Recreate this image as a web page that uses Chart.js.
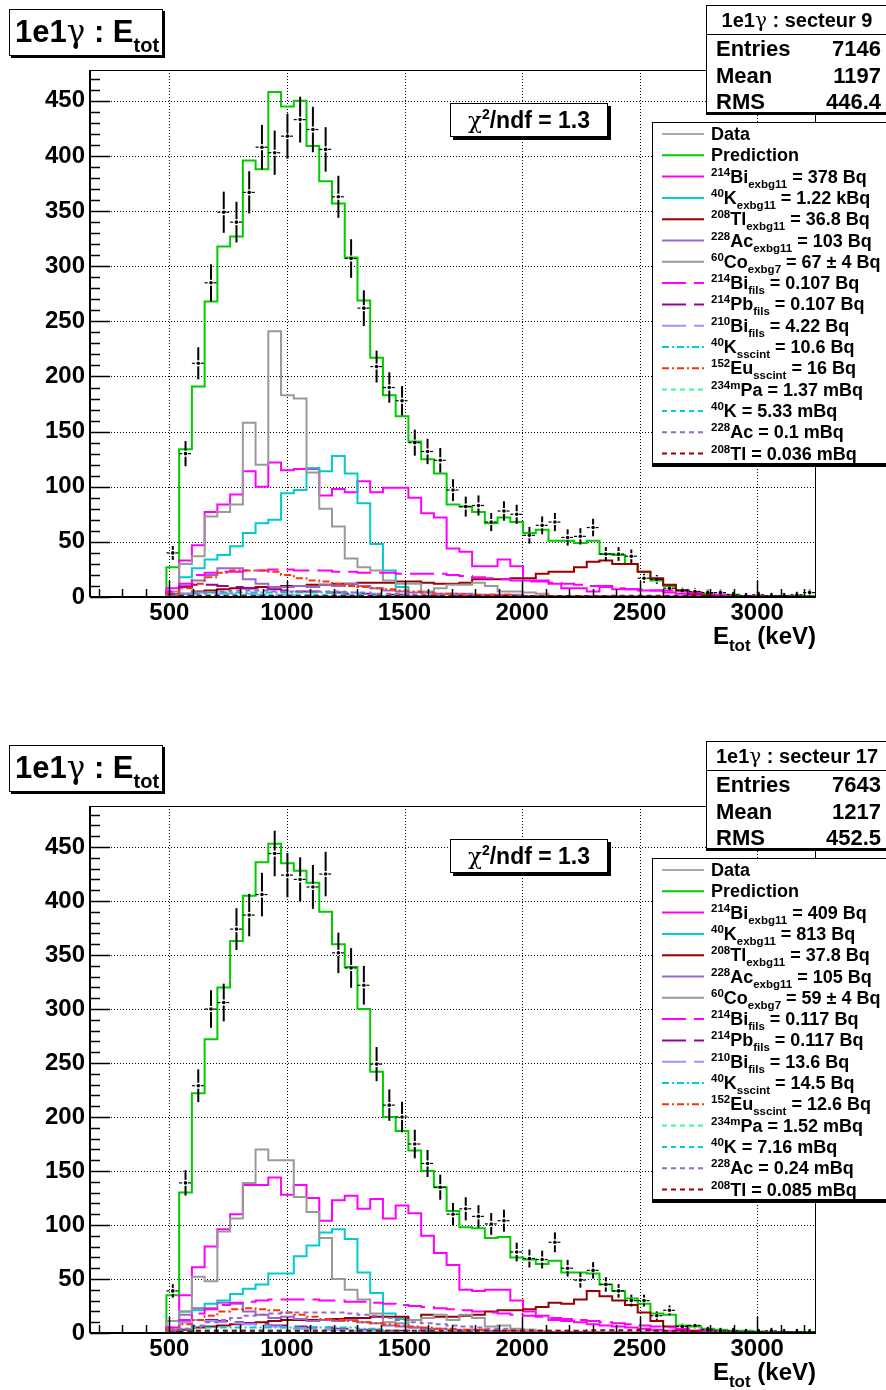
<!DOCTYPE html>
<html>
<head>
<meta charset="utf-8">
<script src="https://cdn.jsdelivr.net/npm/chart.js@4.4.0/dist/chart.umd.min.js"></script>
<style>
  body { margin: 0; width: 886px; height: 1390px; overflow: hidden; background: #fff; position: relative;
         font-family: "Liberation Sans", Arial, Helvetica, sans-serif; font-weight: bold; color: #000; }
  canvas { position: absolute; left: 0; }
  .box { position: absolute; background: #fff; border: 1px solid #000; box-sizing: border-box; }
  .abs { position: absolute; white-space: nowrap; }
  .sup { position: relative; top: -7px; font-size: 11.5px; }
  .sub { position: relative; top: 5px; font-size: 11.5px; }
  .greek { font-weight: normal; font-family: "DejaVu Serif", "Liberation Serif", serif; }
</style>
</head>
<body>
<script>
// 1e1g E_tot spectra, secteur 9 and secteur 17
// histograms: 57 bins of 3250/60 keV, first edge at 162.5 keV

const BIN_W = 3250 / 60;
const X_MIN = 162.5;
const X_MAX = 3250;
const X_TICKS = [500, 1000, 1500, 2000, 2500, 3000];
const Y_TICKS = [0, 50, 100, 150, 200, 250, 300, 350, 400, 450];

// ---- secteur 9 ----
const s9Data = [null, null, null, null, null, null,
  40, 130, 212, 285, 349, 340, 367, 408, 403, 418,
  433, 424, 406, 363, 307, 262, 209, 190, 178, 140,
  132, 124, 97, 82, 83, 68, 78, 75, 56, 65,
  68, 54, 55, 63, 39, 39, 37, 17, 16, 8,
  6, 5, 4, 4, 2, 1, 2, 1, 1, 2, 4];
const s9Pred = [0, 0, 0, 0, 0, 0,
  27, 134, 191, 268, 318, 327, 396, 388, 458, 445,
  450, 409, 377, 357, 308, 269, 217, 183, 164, 141,
  125, 112, 84, 82, 77, 67, 72, 68, 58, 61,
  51, 51, 49, 51, 39, 38, 30, 23, 15, 10,
  6, 4, 3, 2, 2, 1, 1, 1, 1, 1, 1];
const s9Bi214 = [0, 0, 0, 0, 0, 0,
  8, 33, 47, 77, 84, 93, 114, 100, 122, 115,
  116, 116, 92, 98, 95, 105, 95, 99, 99, 90,
  76, 72, 44, 41, 28, 28, 34, 28, 15, 15,
  12, 8, 8, 5, 10, 7, 7, 6, 6, 4,
  3, 2, 1, 1, 0.5, 0.5, 0.3, 0.3, 0.2, 0.2, 0.1];
const s9K40 = [0, 0, 0, 0, 0, 0,
  3, 18, 26, 34, 38, 46, 58, 67, 70, 94,
  97, 117, 114, 128, 112, 85, 48, 24, 9, 1,
  0, 0, 0, 0, 0, 0, 0, 0, 0, 0,
  0, 0, 0, 0, 0, 0, 0, 0, 0, 0,
  0, 0, 0, 0, 0, 0, 0, 0, 0, 0, 0];
const s9Tl208 = [0, 0, 0, 0, 0, 0,
  1, 3, 5, 6, 7, 8, 8, 9, 9, 10,
  10, 11, 11, 12, 12, 13, 13, 13, 14, 14,
  13, 12, 12, 13, 16, 16, 16, 17, 17, 21,
  23, 23, 27, 32, 33, 30, 30, 23, 17, 11,
  6, 3, 1.5, 1, 0.5, 0.5, 0.3, 0.3, 0.2, 0.2, 0.1];
const s9Ac228 = [0, 0, 0, 0, 0, 0,
  2, 10, 15, 20, 26, 26, 16, 12, 9, 9,
  10, 9, 11, 10, 12, 10, 8, 6, 5, 4,
  4, 3, 3, 3, 2, 2, 2, 2, 1, 1,
  1, 1, 1, 1, 1, 0.5, 0.5, 0.5, 0.3, 0.3,
  0.2, 0.2, 0.1, 0.1, 0, 0, 0, 0, 0, 0, 0];
const s9Co60 = [0, 0, 0, 0, 0, 0,
  5, 30, 37, 73, 77, 84, 158, 120, 241, 183,
  180, 113, 80, 64, 35, 27, 24, 15, 12, 12,
  5, 8, 11, 11, 13, 10, 5, 5, 4, 3,
  1, 0, 0, 0, 0, 0, 0, 0, 0, 0,
  0, 0, 0, 0, 0, 0, 0, 0, 0, 0, 0];
const s9Bi214f = [0, 0, 0, 0, 0, 0,
  5, 12, 20, 22, 23, 23, 24, 24, 25, 25,
  24, 24, 24, 23, 23, 22, 22, 22, 21, 21,
  21, 21, 20, 19, 18, 17, 16, 15, 14, 14,
  13, 12, 11, 10, 9, 8, 7, 7, 6, 6,
  5, 4, 3, 2, 1, 0.5, 0.5, 0.3, 0.3, 0.2, 0.2];
const s9Pb214f = [0, 0, 0, 0, 0, 0,
  3, 9, 11, 11, 10, 9, 8, 8, 7, 6,
  5, 5, 4, 4, 3, 3, 2, 2, 2, 1,
  1, 1, 1, 0.5, 0.5, 0.5, 0.5, 0.5, 0.5, 0.5,
  0.3, 0.3, 0.3, 0.3, 0.3, 0.3, 0.3, 0.2, 0.2, 0.2,
  0.2, 0.1, 0.1, 0, 0, 0, 0, 0, 0, 0, 0];
const s9Bi210f = [0, 0, 0, 0, 0, 0,
  1, 3, 4, 4, 3, 3, 3, 2, 2, 2,
  1, 1, 1, 1, 1, 0.5, 0.5, 0.5, 0.3, 0.3,
  0.2, 0.2, 0.1, 0.1, 0, 0, 0, 0, 0, 0,
  0, 0, 0, 0, 0, 0, 0, 0, 0, 0,
  0, 0, 0, 0, 0, 0, 0, 0, 0, 0, 0];
const s9K40s = [0, 0, 0, 0, 0, 0,
  1, 3, 4, 4, 4, 4, 4, 4, 4, 4,
  4, 4, 4, 4, 4, 3, 3, 1, 0.5, 0.2,
  0.2, 0.2, 0.1, 0.1, 0, 0, 0, 0, 0, 0,
  0, 0, 0, 0, 0, 0, 0, 0, 0, 0,
  0, 0, 0, 0, 0, 0, 0, 0, 0, 0, 0];
const s9Eu152 = [0, 0, 0, 0, 0, 0,
  3, 8, 12, 18, 22, 24, 24, 24, 23, 20,
  17, 15, 14, 12, 10, 9, 8, 7, 6, 5,
  4, 3, 3, 2, 2, 2, 2, 1, 1, 1,
  1, 1, 1, 0.5, 0.5, 0.5, 0.5, 0.3, 0.3, 0.3,
  0.2, 0.2, 0.2, 0.1, 0.1, 0, 0, 0, 0, 0, 0];
const s9Pa234 = [0, 0, 0, 0, 0, 0,
  0.5, 1, 1, 1.5, 1.5, 1.5, 1.5, 1.5, 1.5, 1.5,
  1.5, 1.5, 1.5, 1.5, 1.5, 1.5, 1.5, 1.5, 1.5, 1.5,
  1.5, 1, 1, 1, 1, 1, 1, 1, 1, 1,
  1, 1, 1, 1, 1, 0.5, 0.5, 0.5, 0.5, 0.5,
  0.3, 0.3, 0.3, 0.2, 0.2, 0.1, 0.1, 0, 0, 0, 0];
const s9K40p = [0, 0, 0, 0, 0, 0,
  0.5, 1.5, 1.5, 1.5, 1.5, 1.5, 1.5, 1.5, 1.5, 1.5,
  1.5, 1.5, 1.5, 1.5, 1.5, 1.5, 1.2, 0.5, 0.2, 0,
  0, 0, 0, 0, 0, 0, 0, 0, 0, 0,
  0, 0, 0, 0, 0, 0, 0, 0, 0, 0,
  0, 0, 0, 0, 0, 0, 0, 0, 0, 0, 0];
const s9Ac228p = [0, 0, 0, 0, 0, 0,
  0.5, 2, 3, 4, 5, 6, 6, 6, 5, 5,
  5, 5, 5, 5, 4, 4, 3, 3, 3, 2,
  2, 2, 2, 1, 1, 1, 1, 1, 1, 1,
  0.5, 0.5, 0.5, 0.5, 0.5, 0.3, 0.3, 0.3, 0.3, 0.2,
  0.2, 0.2, 0.1, 0.1, 0, 0, 0, 0, 0, 0, 0];
const s9Tl208p = [0, 0, 0, 0, 0, 0,
  0.3, 0.8, 1, 1, 1, 1, 1, 1, 1, 1,
  1, 1, 1, 1, 1, 1, 1, 1, 1, 1,
  1, 1, 1, 1, 1, 1, 1, 1, 1, 1,
  1, 1, 1, 1, 1, 1.2, 1.2, 1.2, 1.2, 1.2,
  1, 1, 0.8, 0.5, 0.3, 0.2, 0.1, 0.1, 0, 0, 0];

const s9Legend = [
  ['', 'Data', '', ''],
  ['', 'Prediction', '', ''],
  ['214', 'Bi', 'exbg11', '= 378 Bq'],
  ['40', 'K', 'exbg11', '= 1.22 kBq'],
  ['208', 'Tl', 'exbg11', '= 36.8 Bq'],
  ['228', 'Ac', 'exbg11', '= 103 Bq'],
  ['60', 'Co', 'exbg7', '= 67 ± 4 Bq'],
  ['214', 'Bi', 'fils', '= 0.107 Bq'],
  ['214', 'Pb', 'fils', '= 0.107 Bq'],
  ['210', 'Bi', 'fils', '= 4.22 Bq'],
  ['40', 'K', 'sscint', '= 10.6 Bq'],
  ['152', 'Eu', 'sscint', '= 16 Bq'],
  ['234m', 'Pa', '', '= 1.37 mBq'],
  ['40', 'K', '', '= 5.33 mBq'],
  ['228', 'Ac', '', '= 0.1 mBq'],
  ['208', 'Tl', '', '= 0.036 mBq']
];
const s9Stats = ['secteur 9', '7146', '1197', '446.4'];

// ---- secteur 17 ----
const s17Data = [null, null, null, null, null, null,
  39, 139, 229, 300, 306, 374, 387, 406, 444, 424,
  420, 413, 425, 352, 338, 322, 249, 211, 200, 175,
  157, 135, 110, 115, 108, 101, 104, 75, 69, 68,
  84, 60, 49, 58, 45, 39, 30, 30, 16, 21,
  6, 7, 3, 2, 2, 1, 1, 2, 1, 1, 1];
const s17Pred = [0, 0, 0, 0, 0, 0,
  35, 130, 222, 272, 320, 363, 405, 436, 453, 435,
  428, 417, 390, 360, 339, 300, 242, 200, 187, 169,
  150, 135, 113, 98, 97, 88, 89, 70, 68, 64,
  67, 56, 56, 55, 45, 39, 32, 27, 18, 17,
  7, 6, 4, 3, 2, 2, 1.5, 1, 1, 1, 1];
const s17Bi214 = [0, 0, 0, 0, 0, 0,
  5, 35, 61, 80, 96, 110, 137, 137, 144, 128,
  137, 125, 104, 123, 127, 115, 124, 106, 118, 111,
  90, 74, 63, 40, 39, 40, 40, 30, 20, 16,
  12, 11, 10, 8, 7, 6, 5, 4, 3, 2,
  2, 1, 1, 0.5, 0.5, 0.3, 0.3, 0.2, 0.2, 0.1, 0.1];
const s17K40 = [0, 0, 0, 0, 0, 0,
  3, 20, 21, 27, 30, 36, 41, 45, 55, 55,
  71, 81, 93, 96, 87, 56, 37, 18, 13, 5,
  2, 1, 0, 0, 0, 0, 0, 0, 0, 0,
  0, 0, 0, 0, 0, 0, 0, 0, 0, 0,
  0, 0, 0, 0, 0, 0, 0, 0, 0, 0, 0];
const s17Tl208 = [0, 0, 0, 0, 0, 0,
  1, 3, 5, 6, 7, 8, 9, 10, 11, 12,
  12, 12, 12, 13, 14, 14, 15, 15, 15, 12,
  17, 15, 15, 16, 17, 20, 21, 21, 22, 24,
  28, 27, 31, 39, 34, 30, 26, 19, 11, 6,
  3, 2, 1, 0.5, 0.5, 0.3, 0.3, 0.2, 0.2, 0.1, 0.1];
const s17Ac228 = [0, 0, 0, 0, 0, 0,
  3, 17, 23, 23, 28, 27, 20, 17, 14, 15,
  13, 11, 12, 11, 12, 10, 9, 7, 6, 5,
  4, 4, 3, 3, 3, 2, 2, 2, 1, 1,
  1, 1, 1, 1, 0.5, 0.5, 0.5, 0.3, 0.3, 0.2,
  0.2, 0.1, 0.1, 0, 0, 0, 0, 0, 0, 0, 0];
const s17Co60 = [0, 0, 0, 0, 0, 0,
  11, 20, 52, 48, 94, 106, 139, 170, 160, 160,
  126, 112, 88, 50, 40, 31, 18, 10, 9, 12,
  14, 17, 12, 17, 14, 6, 7, 4, 3, 2,
  1, 0, 0, 0, 0, 0, 0, 0, 0, 0,
  0, 0, 0, 0, 0, 0, 0, 0, 0, 0, 0];
const s17Bi214f = [0, 0, 0, 0, 0, 0,
  5, 12, 18, 22, 26, 28, 29, 30, 31, 31,
  31, 31, 30, 30, 29, 29, 28, 27, 26, 25,
  24, 23, 22, 21, 20, 19, 18, 17, 16, 15,
  14, 13, 12, 11, 10, 9, 8, 7, 6, 5,
  4, 3, 2, 1, 0.5, 0.5, 0.3, 0.3, 0.2, 0.2, 0.1];
const s17Pb214f = [0, 0, 0, 0, 0, 0,
  3, 10, 12, 12, 11, 10, 9, 8, 7, 7,
  6, 5, 5, 4, 4, 3, 3, 2, 2, 2,
  1, 1, 1, 1, 0.5, 0.5, 0.5, 0.5, 0.5, 0.5,
  0.3, 0.3, 0.3, 0.3, 0.3, 0.3, 0.2, 0.2, 0.2, 0.2,
  0.1, 0.1, 0, 0, 0, 0, 0, 0, 0, 0, 0];
const s17Bi210f = [0, 0, 0, 0, 0, 0,
  3, 10, 12, 11, 10, 9, 8, 7, 6, 5,
  4, 4, 3, 3, 2, 2, 2, 1, 1, 1,
  0.5, 0.5, 0.5, 0.3, 0.3, 0.2, 0.2, 0.1, 0.1, 0,
  0, 0, 0, 0, 0, 0, 0, 0, 0, 0,
  0, 0, 0, 0, 0, 0, 0, 0, 0, 0, 0];
const s17K40s = [0, 0, 0, 0, 0, 0,
  1, 4, 5, 5, 5, 5, 5, 5, 5, 5,
  5, 5, 5, 5, 5, 4, 4, 1.5, 0.5, 0.2,
  0.2, 0.2, 0.1, 0.1, 0, 0, 0, 0, 0, 0,
  0, 0, 0, 0, 0, 0, 0, 0, 0, 0,
  0, 0, 0, 0, 0, 0, 0, 0, 0, 0, 0];
const s17Eu152 = [0, 0, 0, 0, 0, 0,
  3, 8, 12, 16, 20, 22, 23, 22, 21, 19,
  17, 15, 13, 12, 11, 10, 9, 8, 7, 6,
  5, 4, 4, 3, 3, 2, 2, 2, 1, 1,
  1, 1, 1, 0.5, 0.5, 0.5, 0.5, 0.3, 0.3, 0.3,
  0.2, 0.2, 0.2, 0.1, 0.1, 0, 0, 0, 0, 0, 0];
const s17Pa234 = [0, 0, 0, 0, 0, 0,
  0.5, 1.5, 1.5, 2, 2, 2, 2, 2, 2, 2,
  2, 2, 2, 2, 2, 2, 2, 2, 2, 2,
  2, 1.5, 1.5, 1.5, 1.5, 1.5, 1.5, 1.5, 1.5, 1.5,
  1, 1, 1, 1, 1, 0.5, 0.5, 0.5, 0.5, 0.5,
  0.3, 0.3, 0.3, 0.2, 0.2, 0.1, 0.1, 0, 0, 0, 0];
const s17K40p = [0, 0, 0, 0, 0, 0,
  0.5, 2, 2, 2, 2, 2, 2, 2, 2, 2,
  2, 2, 2, 2, 2, 2, 1.5, 0.6, 0.3, 0,
  0, 0, 0, 0, 0, 0, 0, 0, 0, 0,
  0, 0, 0, 0, 0, 0, 0, 0, 0, 0,
  0, 0, 0, 0, 0, 0, 0, 0, 0, 0, 0];
const s17Ac228p = [0, 0, 0, 0, 0, 0,
  1, 4, 7, 10, 12, 14, 16, 17, 18, 19,
  19, 19, 19, 19, 18, 17, 16, 14, 12, 10,
  9, 8, 7, 6, 5, 4, 4, 3, 3, 2,
  2, 2, 1, 1, 1, 1, 0.5, 0.5, 0.5, 0.5,
  0.3, 0.3, 0.2, 0.2, 0.1, 0.1, 0, 0, 0, 0, 0];
const s17Tl208p = [0, 0, 0, 0, 0, 0,
  0.5, 1.5, 2, 2, 2, 2, 2, 2, 2, 2,
  2, 2, 2, 2, 2, 2, 2, 2, 2, 2,
  2, 2, 2, 2, 2, 2, 2, 2, 2, 2,
  2, 2, 2, 2.5, 2.5, 2.5, 2.5, 2.5, 2, 2,
  1.5, 1, 0.5, 0.3, 0.2, 0.1, 0.1, 0, 0, 0, 0];

const s17Legend = [
  ['', 'Data', '', ''],
  ['', 'Prediction', '', ''],
  ['214', 'Bi', 'exbg11', '= 409 Bq'],
  ['40', 'K', 'exbg11', '= 813 Bq'],
  ['208', 'Tl', 'exbg11', '= 37.8 Bq'],
  ['228', 'Ac', 'exbg11', '= 105 Bq'],
  ['60', 'Co', 'exbg7', '= 59 ± 4 Bq'],
  ['214', 'Bi', 'fils', '= 0.117 Bq'],
  ['214', 'Pb', 'fils', '= 0.117 Bq'],
  ['210', 'Bi', 'fils', '= 13.6 Bq'],
  ['40', 'K', 'sscint', '= 14.5 Bq'],
  ['152', 'Eu', 'sscint', '= 12.6 Bq'],
  ['234m', 'Pa', '', '= 1.52 mBq'],
  ['40', 'K', '', '= 7.16 mBq'],
  ['228', 'Ac', '', '= 0.24 mBq'],
  ['208', 'Tl', '', '= 0.085 mBq']
];
const s17Stats = ['secteur 17', '7643', '1217', '452.5'];

// line styles, same order as the legend rows
const STYLES = [
  { color: '#000000', dash: [], width: 1 },
  { color: '#00cc00', dash: [], width: 2 },
  { color: '#ff00ff', dash: [], width: 2 },
  { color: '#00cccc', dash: [], width: 2 },
  { color: '#990000', dash: [], width: 2 },
  { color: '#9966cc', dash: [], width: 2 },
  { color: '#999999', dash: [], width: 2 },
  { color: '#ff00ff', dash: [24, 8], width: 2 },
  { color: '#990099', dash: [24, 8], width: 2 },
  { color: '#9999ff', dash: [24, 8], width: 2 },
  { color: '#00cccc', dash: [7, 3, 2, 3], width: 2 },
  { color: '#ff3300', dash: [7, 3, 2, 3], width: 2 },
  { color: '#33ff99', dash: [5, 4], width: 2 },
  { color: '#00cccc', dash: [5, 4], width: 2 },
  { color: '#9966cc', dash: [5, 4], width: 2 },
  { color: '#990000', dash: [5, 4], width: 2 }
];

Chart.defaults.font.family = '"Liberation Sans", Arial, Helvetica, sans-serif';
Chart.defaults.color = '#000';

function histPoints(values) {
  const pts = [];
  values.forEach((v, i) => {
    const lo = X_MIN + i * BIN_W;
    pts.push({ x: lo, y: v }, { x: lo + BIN_W, y: v });
  });
  return pts;
}

function line(ctx, x1, y1, x2, y2) {
  ctx.beginPath(); ctx.moveTo(x1, y1); ctx.lineTo(x2, y2); ctx.stroke();
}

// ROOT-like grid, frame, inner ticks and data error bars
const rootPlot = {
  id: 'rootPlot',
  beforeDatasetsDraw(chart) {
    const { ctx, chartArea: a, scales: { x, y } } = chart;
    ctx.save();
    ctx.strokeStyle = '#000';
    ctx.lineWidth = 1;
    ctx.setLineDash([1, 2]);
    X_TICKS.forEach(v => {
      const px = Math.round(x.getPixelForValue(v)) + 0.5;
      line(ctx, px, a.top, px, a.bottom);
    });
    Y_TICKS.slice(1).forEach(v => {
      const py = Math.round(y.getPixelForValue(v)) + 0.5;
      line(ctx, a.left, py, a.right, py);
    });
    ctx.restore();
  },
  afterDatasetsDraw(chart) {
    const { ctx, chartArea: a, scales: { x, y } } = chart;
    const ds = chart.data.datasets.find(d => d.isData);
    ctx.save();
    ctx.beginPath();
    ctx.rect(a.left, a.top, a.right - a.left, a.bottom - a.top);
    ctx.clip();
    ctx.strokeStyle = '#000';
    ds.data.forEach(p => {
      const cx = x.getPixelForValue(p.x), cy = y.getPixelForValue(p.y);
      const err = Math.sqrt(p.y);
      const yHi = y.getPixelForValue(p.y + err), yLo = y.getPixelForValue(p.y - err);
      const xL = x.getPixelForValue(p.x - BIN_W / 2), xR = x.getPixelForValue(p.x + BIN_W / 2);
      ctx.setLineDash([]);
      ctx.lineWidth = 2;
      line(ctx, cx, yHi, cx, cy - 3);
      line(ctx, cx, cy + 3, cx, yLo);
      ctx.lineWidth = 1.2;
      ctx.setLineDash([3, 2]);
      line(ctx, xL, cy, cx - 2.5, cy);
      line(ctx, cx + 2.5, cy, xR, cy);
    });
    ctx.restore();

    // frame and ticks
    ctx.save();
    ctx.strokeStyle = '#000';
    ctx.lineWidth = 1;
    ctx.strokeRect(a.left + 0.5, a.top + 0.5, a.right - a.left - 1, a.bottom - a.top - 1);
    ctx.lineWidth = 2;
    line(ctx, a.left, a.top, a.left, a.bottom);
    line(ctx, a.left, a.bottom, a.right, a.bottom);
    ctx.lineWidth = 1.5;
    for (let v = 0; v <= y.max; v += 10) {
      const py = Math.round(y.getPixelForValue(v)) + 0.5;
      line(ctx, a.left, py, a.left + (v % 50 === 0 ? 20 : 10), py);
    }
    for (let v = 200; v <= X_MAX; v += 100) {
      const px = Math.round(x.getPixelForValue(v)) + 0.5;
      line(ctx, px, a.bottom, px, a.bottom - (v % 500 === 0 ? 16 : 8));
    }
    ctx.restore();
  }
};

function el(cls, css, html) {
  const d = document.createElement('div');
  d.className = cls;
  Object.assign(d.style, css);
  if (html !== undefined) d.innerHTML = html;
  document.body.appendChild(d);
  return d;
}

function makePanel(top, series, legend, stats, yMax) {
  const canvas = document.createElement('canvas');
  canvas.width = 886; canvas.height = 654;
  canvas.style.top = top + 'px';
  document.body.appendChild(canvas);

  const datasets = [{
    isData: true,
    data: series[0].map((v, i) => v == null ? null : { x: X_MIN + (i + 0.5) * BIN_W, y: v }).filter(Boolean),
    showLine: false,
    pointRadius: 1.8,
    pointBackgroundColor: '#000',
    pointBorderWidth: 0
  }];
  // last legend entry on top, prediction at the bottom
  for (let k = series.length - 1; k >= 1; k--) {
    const st = STYLES[k];
    datasets.push({
      data: histPoints(series[k]),
      borderColor: st.color,
      borderWidth: st.width,
      borderDash: st.dash,
      pointRadius: 0,
      fill: false,
      tension: 0
    });
  }

  new Chart(canvas, {
    type: 'line',
    data: { datasets },
    options: {
      responsive: false,
      animation: false,
      devicePixelRatio: 1,
      layout: { padding: { left: 0, right: 70, top: 70, bottom: 0 } },
      plugins: { legend: { display: false }, tooltip: { enabled: false } },
      scales: {
        x: {
          type: 'linear', min: X_MIN, max: X_MAX,
          afterBuildTicks: s => { s.ticks = X_TICKS.map(v => ({ value: v })); },
          afterFit: s => { s.height = 57; },
          grid: { display: false, drawTicks: false },
          border: { display: false },
          ticks: { autoSkip: false, maxRotation: 0, padding: 2, font: { size: 24, weight: 'bold' }, callback: v => String(v) }
        },
        y: {
          min: 0, max: yMax,
          afterBuildTicks: s => { s.ticks = Y_TICKS.map(v => ({ value: v })); },
          afterFit: s => { s.width = 90; },
          grid: { display: false, drawTicks: false },
          border: { display: false },
          ticks: { padding: 5, font: { size: 24, weight: 'bold' }, callback: v => String(v) }
        }
      }
    },
    plugins: [rootPlot]
  });

  // title box
  el('box', { left: '9px', top: (top + 9) + 'px', width: '154px', height: '47px', boxShadow: '2px 2px 0 #000' },
    '<div class="abs" style="left:5px;top:3px;font-size:31px;">1e1<span class="greek">γ</span> : E' +
    '<span style="font-size:20px;position:relative;top:10px;">tot</span></div>');

  // stats box
  el('box', { left: '706px', top: (top + 5) + 'px', width: '200px', height: '108px', boxShadow: '0 2px 0 #000' },
    '<div class="abs" style="left:0;width:180px;top:2px;text-align:center;font-size:20px;">1e1<span class="greek">γ</span> : ' + stats[0] + '</div>' +
    '<div class="abs" style="left:0;top:28px;width:200px;border-top:1px solid #000;"></div>' +
    ['Entries', 'Mean', 'RMS'].map((lab, k) =>
      '<div class="abs" style="left:9px;top:' + (30 + k * 26.5) + 'px;font-size:22px;">' + lab + '</div>' +
      '<div class="abs" style="left:0;width:174px;text-align:right;top:' + (30 + k * 26.5) + 'px;font-size:22px;">' + stats[k + 1] + '</div>'
    ).join(''));

  // chi2 box
  el('box', { left: '450px', top: (top + 103) + 'px', width: '158px', height: '34px', boxShadow: '3px 3px 0 #000' },
    '<div class="abs" style="left:0;width:156px;text-align:center;top:3px;font-size:23px;">' +
    '<span class="greek">χ</span><span style="font-size:14px;position:relative;top:-9px;">2</span>/ndf = 1.3</div>');

  // legend box
  const rowH = 21.3;
  let svg = '<svg class="abs" style="left:0;top:0;" width="240" height="342">';
  let rows = '';
  legend.forEach((lab, k) => {
    const yl = 11 + k * rowH;
    const st = STYLES[k];
    svg += '<line x1="9" x2="51" y1="' + yl + '" y2="' + yl + '" stroke="' + (k === 0 ? '#555' : st.color) +
      '" stroke-width="' + st.width + '" stroke-dasharray="' + (st.dash.length ? st.dash.join(' ') : 'none') + '"/>';
    let txt = '';
    if (lab[0]) txt += '<span class="sup">' + lab[0] + '</span>';
    txt += lab[1];
    if (lab[2]) txt += '<span class="sub">' + lab[2] + '</span>';
    if (lab[3]) txt += ' ' + lab[3];
    rows += '<div class="abs" style="left:58px;top:' + (yl - 10) + 'px;font-size:18px;line-height:20px;">' + txt + '</div>';
  });
  svg += '</svg>';
  el('box', { left: '652px', top: (top + 122) + 'px', width: '240px', height: '342px', boxShadow: '0 3px 0 #000' }, svg + rows);

  // x axis title
  el('abs', { left: '0', width: '816px', textAlign: 'right', top: (top + 622) + 'px', fontSize: '24px' },
    'E<span style="font-size:17px;position:relative;top:7px;">tot</span> (keV)');
}

makePanel(0,
  [s9Data, s9Pred, s9Bi214, s9K40, s9Tl208, s9Ac228, s9Co60, s9Bi214f, s9Pb214f, s9Bi210f,
   s9K40s, s9Eu152, s9Pa234, s9K40p, s9Ac228p, s9Tl208p],
  s9Legend, s9Stats, 478);
makePanel(736,
  [s17Data, s17Pred, s17Bi214, s17K40, s17Tl208, s17Ac228, s17Co60, s17Bi214f, s17Pb214f, s17Bi210f,
   s17K40s, s17Eu152, s17Pa234, s17K40p, s17Ac228p, s17Tl208p],
  s17Legend, s17Stats, 488);
</script>
</body>
</html>
